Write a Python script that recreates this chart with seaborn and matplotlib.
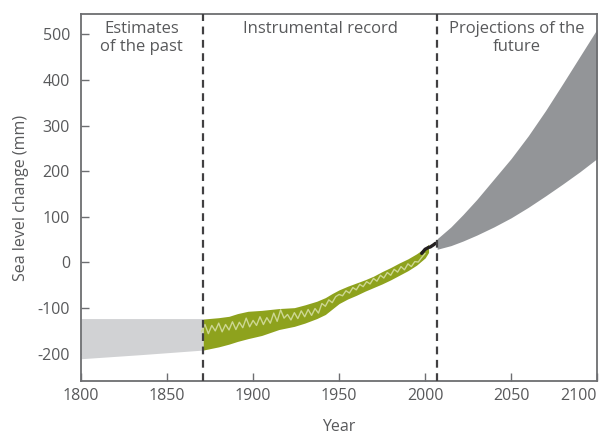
import numpy as np
import pandas as pd
import matplotlib
matplotlib.use("Agg")
import matplotlib.pyplot as plt
import seaborn as sns

# ---- data ----
past_years = [1800, 1835, 1871]
past_upper = [-123, -123, -123]
past_lower = [-211, -202, -192]

green_years = [1871, 1880, 1886, 1891, 1897, 1905, 1915, 1924, 1930, 1937, 1942,
               1946, 1950, 1955, 1960, 1965, 1970, 1975, 1980, 1985, 1990, 1995,
               2000, 2002]
green_upper = [-124, -121, -118, -112, -107, -105, -101, -99, -93, -85, -77,
               -68, -60, -52, -45, -38, -30, -20, -11, -1, 8, 19,
               32, 40]
green_lower = [-192, -185, -179, -173, -167, -160, -147, -140, -133, -123, -114,
               -102, -90, -80, -72, -63, -55, -47, -38, -28, -18, -6,
               10, 22]

tide_years = list(range(1870, 2001, 2))
tide_values = [-152, -136, -156, -138, -150, -133, -152, -136, -148, -130,
               -147, -131, -143, -122, -141, -127, -138, -119, -136, -121,
               -133, -111, -129, -104, -122, -114, -126, -110, -123, -106,
               -119, -103, -116, -101, -111, -90, -96, -82, -88, -75,
               -70, -73, -62, -67, -55, -60, -48, -53, -42, -47,
               -35, -41, -28, -34, -22, -28, -15, -21, -9, -16,
               -3, -9, 2, 1, 11, 20]

sat_years = [1998, 2000, 2002, 2003, 2005, 2006]
sat_values = [20, 29, 33, 34, 39, 42]

future_years = [2007, 2015, 2022, 2030, 2040, 2050, 2060, 2070, 2080, 2090, 2100]
future_upper = [52, 78, 105, 138, 183, 228, 278, 333, 392, 452, 512]
future_lower = [29, 37, 47, 60, 78, 98, 121, 146, 172, 199, 228]

boundaries = [1871, 2007]
x_ticks = [1800, 1850, 1900, 1950, 2000, 2050, 2100]
y_ticks = [-200, -100, 0, 100, 200, 300, 400, 500]

# ---- style ----
sns.set_theme(style="white")
plt.rcParams['font.family'] = ['Open Sans', 'DejaVu Sans']
plt.rcParams['axes.unicode_minus'] = False

text_col = "#58595b"
spine_col = "#6d6e71"

fig = plt.figure(figsize=(6.05, 4.36), dpi=100)
ax = fig.add_axes([0.134, 0.126, 0.853, 0.842])

ax.fill_between(past_years, past_lower, past_upper, color="#d1d2d4", lw=0)
ax.fill_between(green_years, green_lower, green_upper, color="#8ea21d", lw=0)
ax.fill_between(future_years, future_lower, future_upper, color="#939598", lw=0)

tide = pd.DataFrame({"year": tide_years, "value": tide_values})
sns.lineplot(data=tide, x="year", y="value", ax=ax, color="#cdd793", lw=1.0)
sat = pd.DataFrame({"year": sat_years, "value": sat_values})
sns.lineplot(data=sat, x="year", y="value", ax=ax, color="#231f20", lw=2.4)

for b in boundaries:
    ax.axvline(b, color="#414042", lw=1.6, ls=(0, (3.5, 2.5)), zorder=5)

ax.set_xlim(1800, 2100)
ax.set_ylim(-260, 545)
ax.set_xticks(x_ticks)
ax.set_yticks(y_ticks)
ax.tick_params(direction="in", length=6, width=1, color=spine_col,
               labelcolor=text_col, labelsize=11.5,
               bottom=True, left=True)
ax.tick_params(axis="x", pad=5)
ax.tick_params(axis="y", pad=8)
labs = ax.get_xticklabels()
labs[-1].set_ha("right")
labs[-1].set_x(2100)
for s in ax.spines.values():
    s.set_color(spine_col)
    s.set_linewidth(1.3)

ax.set_xlabel("Year", color=text_col, fontsize=11.5, labelpad=10.5)
ax.set_ylabel("Sea level change (mm)", color=text_col, fontsize=11.5, labelpad=6)

ax.text(1835, 530, "Estimates\nof the past", ha="center", va="top",
        color=text_col, fontsize=12, linespacing=1.15)
ax.text(1939, 530, "Instrumental record", ha="center", va="top",
        color=text_col, fontsize=12)
ax.text(2053.5, 530, "Projections of the\nfuture", ha="center", va="top",
        color=text_col, fontsize=12, linespacing=1.15)

fig.savefig("out.png", dpi=100)
